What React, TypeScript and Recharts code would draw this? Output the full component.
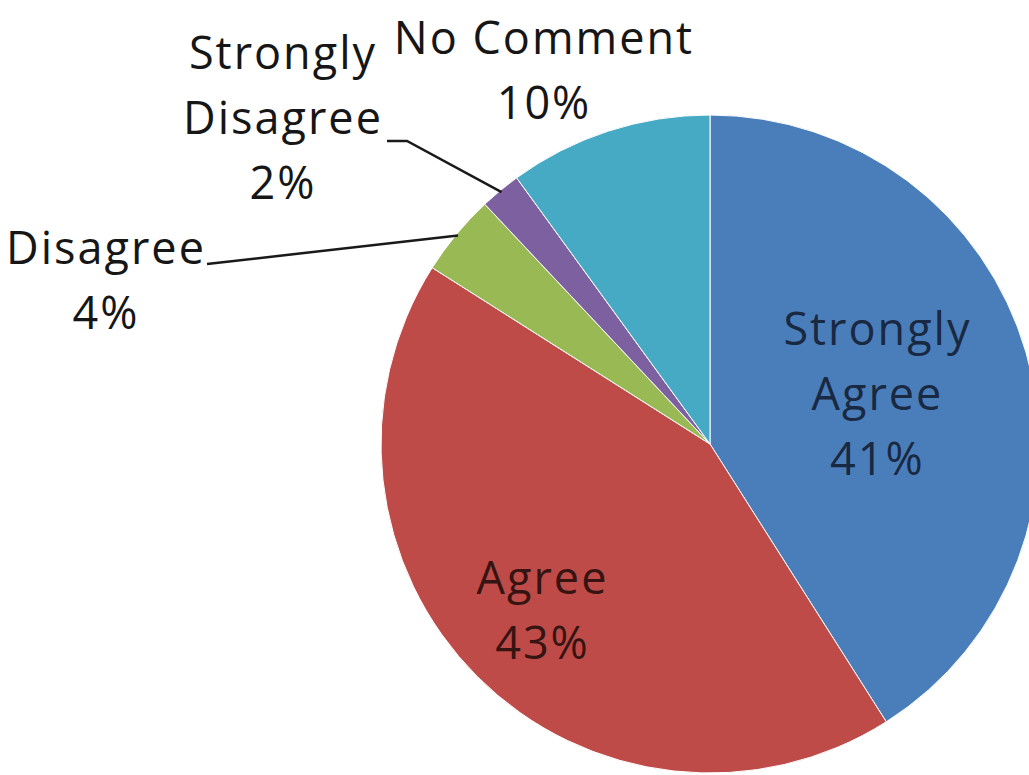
import { PieChart, Pie, Cell } from 'recharts';

const categories = ['Strongly Agree', 'Agree', 'Disagree', 'Strongly Disagree', 'No Comment'];
const shares = [41, 43, 4, 2, 10];
const colors = ['#4A7EBB', '#BE4B48', '#98B954', '#7D60A0', '#46AAC5'];

const data = categories.map((name, i) => ({ name, value: shares[i] }));

const RAD = Math.PI / 180;
const LINE_H = 65;

// how each label is placed: inside at a fraction of the radius, or outside at an offset from the centre
const labelLayout: Record<string, any> = {
  'Strongly Agree': { inside: 0.53, lines: ['Strongly', 'Agree'], color: '#1a2942' },
  Agree: { inside: 0.72, lines: ['Agree'], color: '#361412' },
  Disagree: { dx: -604, dy: -180, lines: ['Disagree'], leader: [[-503, -180]] },
  'Strongly Disagree': {
    dx: -427, dy: -375, lines: ['Strongly', 'Disagree'],
    leader: [[-303, -303], [-323, -303]],
  },
  'No Comment': { dx: -166, dy: -390, lines: ['No Comment'] },
};

function renderLabel(props: any) {
  const { cx, cy, midAngle, outerRadius, name, value } = props;
  const cfg = labelLayout[name];
  const lines = [...cfg.lines, `${value}%`];
  const font = { fontFamily: '"Open Sans", sans-serif', fontSize: 45, letterSpacing: 2 };

  if (cfg.inside) {
    const r = outerRadius * cfg.inside;
    const x = cx + r * Math.cos(-midAngle * RAD);
    const y = cy + r * Math.sin(-midAngle * RAD);
    const first = y - ((lines.length - 1) * LINE_H) / 2 + 15;
    return (
      <text x={x} textAnchor="middle" fill={cfg.color} style={font}>
        {lines.map((l, i) => (
          <tspan key={i} x={x} y={first + i * LINE_H}>{l}</tspan>
        ))}
      </text>
    );
  }

  const tx = cx + cfg.dx;
  const ty = cy + cfg.dy;
  let path = '';
  if (cfg.leader) {
    const ex = cx + (outerRadius - 2) * Math.cos(-midAngle * RAD);
    const ey = cy + (outerRadius - 2) * Math.sin(-midAngle * RAD);
    path = `M${ex},${ey}` + cfg.leader.map((p: number[]) => ` L${cx + p[0]},${cy + p[1]}`).join('');
  }
  return (
    <g>
      {path && <path d={path} stroke="#1a1a1a" strokeWidth={2.5} fill="none" />}
      <text x={tx} textAnchor="middle" fill="#161616" style={font}>
        {lines.map((l, i) => (
          <tspan key={i} x={tx} y={ty + i * LINE_H}>{l}</tspan>
        ))}
      </text>
    </g>
  );
}

export default function App() {
  return (
    <div style={{ position: 'absolute', left: 0, top: 0, background: '#fff' }}>
      <PieChart width={1029} height={775}>
        <Pie
          data={data}
          dataKey="value"
          nameKey="name"
          cx={705}
          cy={439}
          outerRadius={329}
          startAngle={90}
          endAngle={-270}
          stroke="#ffffff"
          strokeWidth={1}
          label={renderLabel}
          labelLine={false}
          isAnimationActive={false}
        >
          {data.map((d, i) => (
            <Cell key={d.name} fill={colors[i]} />
          ))}
        </Pie>
      </PieChart>
    </div>
  );
}
